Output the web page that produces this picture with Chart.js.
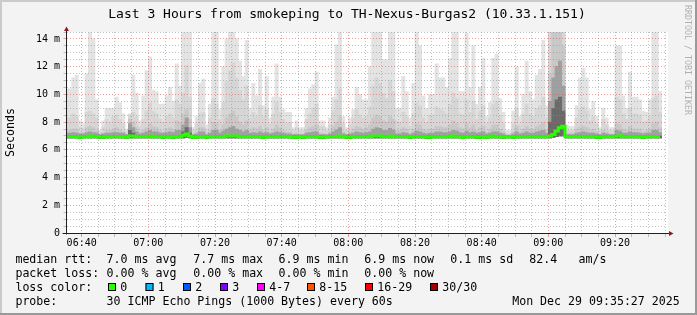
<!DOCTYPE html>
<html>
<head>
<meta charset="utf-8">
<script src="https://cdn.jsdelivr.net/npm/chart.js@4.4.0/dist/chart.umd.min.js"></script>
<style>
  html, body { margin: 0; padding: 0; background: #f3f3f3; }
  #wrap { width: 697px; height: 315px; }
</style>
</head>
<body>
<div id="wrap"><canvas id="smoke" width="697" height="315"></canvas></div>
<script>
// time is in minutes after 06:00, one column per 60s step (06:35 .. 09:34)
var START_MIN = 35;
var VIEW_FROM = 35 + 27 / 60;   // 06:35:27
var VIEW_TO = 215 + 27 / 60;    // 09:35:27

// smoke: ping distribution per step, in ms
var maxRtt = [
  10.4, 10.4, 11.2, 11.4, 8.1, 7.9, 11.5, 15.6, 14.0, 9.6,
  7.4, 8.1, 9.0, 9.0, 9.0, 9.8, 9.4, 8.6, 7.5, 8.6,
  11.4, 10.1, 8.1, 9.9, 11.7, 12.7, 10.3, 10.2, 9.3, 9.3,
  9.9, 10.5, 9.5, 12.2, 10.6, 16.1, 15.3, 15.8, 7.6, 8.4,
  10.8, 11.1, 7.8, 9.3, 15.2, 16.4, 8.9, 12.0, 14.0, 15.5,
  15.1, 14.0, 12.4, 11.3, 13.9, 9.0, 10.8, 9.9, 11.8, 9.2,
  11.3, 8.3, 9.8, 12.2, 9.8, 8.9, 8.7, 8.7, 7.6, 8.1,
  7.6, 7.6, 9.0, 10.4, 10.7, 11.6, 8.1, 8.1, 7.6, 8.3,
  9.8, 13.6, 15.7, 8.4, 7.6, 8.3, 8.9, 10.5, 10.0, 9.6,
  9.6, 12.0, 15.9, 15.2, 16.0, 12.5, 12.5, 15.4, 15.1, 9.0,
  9.0, 11.3, 10.2, 8.3, 10.8, 15.8, 13.5, 9.9, 9.0, 10.0,
  10.0, 12.2, 11.2, 11.2, 10.5, 12.6, 15.3, 16.2, 10.2, 10.2,
  14.4, 10.5, 13.5, 9.3, 10.5, 12.6, 8.4, 9.4, 12.6, 12.9,
  9.7, 8.7, 7.4, 7.4, 8.8, 12.0, 8.4, 10.0, 12.4, 10.2,
  9.6, 11.4, 11.8, 13.9, 9.2, 16.5, 17.2, 17.8, 18.0, 16.9,
  7.8, 7.7, 7.7, 9.2, 11.2, 11.9, 11.2, 8.9, 9.5, 8.4,
  7.6, 9.0, 8.3, 7.6, 7.6, 13.5, 13.5, 9.9, 9.0, 11.6,
  9.8, 9.8, 9.6, 8.8, 8.7, 9.6, 15.4, 15.0, 10.2
];
var hiRtt = [
  8.3, 8.3, 8.6, 8.4, 7.6, 7.5, 8.7, 8.8, 8.6, 8.3,
  7.3, 7.6, 8.2, 8.0, 8.4, 8.5, 8.2, 7.9, 7.3, 8.5,
  8.7, 8.4, 7.7, 8.2, 8.8, 9.4, 8.8, 8.6, 8.2, 8.0,
  8.4, 8.6, 8.3, 9.6, 9.3, 10.1, 12.1, 9.8, 7.4, 7.9,
  8.6, 8.7, 7.5, 8.3, 9.7, 9.3, 8.2, 9.4, 10.9, 11.7,
  12.3, 11.2, 10.3, 9.6, 10.6, 8.3, 8.7, 8.4, 9.2, 8.4,
  8.9, 7.9, 8.6, 9.4, 8.7, 8.2, 7.9, 8.0, 7.4, 7.6,
  7.4, 7.4, 8.2, 8.6, 9.0, 9.3, 7.7, 7.7, 7.4, 7.8,
  8.8, 9.6, 10.4, 7.9, 7.4, 7.8, 8.3, 8.9, 8.5, 8.3,
  8.4, 9.1, 10.6, 11.2, 10.8, 10.1, 9.7, 11.0, 10.2, 8.1,
  8.0, 8.7, 8.4, 7.7, 8.6, 9.4, 9.2, 8.3, 8.0, 8.5,
  8.5, 9.1, 8.9, 8.8, 8.6, 9.3, 10.1, 9.7, 8.6, 8.5,
  9.6, 8.7, 9.5, 8.2, 8.8, 9.2, 7.9, 8.3, 9.3, 9.5,
  8.5, 7.9, 7.2, 7.2, 7.9, 9.0, 7.8, 8.6, 9.3, 8.6,
  8.4, 9.0, 9.2, 9.8, 8.3, 14.6, 17.0, 17.2, 17.4, 15.5,
  7.5, 7.4, 7.4, 8.3, 8.9, 9.1, 8.8, 8.1, 8.4, 7.9,
  7.4, 8.2, 7.8, 7.4, 7.4, 9.8, 9.6, 8.6, 8.2, 9.0,
  8.6, 8.6, 8.5, 8.0, 8.1, 8.4, 9.7, 9.9, 8.7
];
var midRtt = [
  7.4, 7.4, 7.5, 7.5, 7.2, 7.2, 7.6, 7.7, 7.6, 7.4,
  7.1, 7.2, 7.4, 7.4, 7.5, 7.6, 7.4, 7.3, 7.1, 8.2,
  8.0, 7.6, 7.3, 7.4, 7.6, 7.9, 7.7, 7.6, 7.4, 7.3,
  7.5, 7.6, 7.5, 8.1, 8.0, 8.6, 8.9, 8.2, 7.1, 7.3,
  7.6, 7.6, 7.2, 7.4, 8.0, 7.9, 7.4, 7.8, 8.3, 8.6,
  8.8, 8.4, 8.0, 7.8, 8.1, 7.4, 7.6, 7.5, 7.7, 7.4,
  7.6, 7.3, 7.5, 7.8, 7.6, 7.4, 7.3, 7.3, 7.1, 7.2,
  7.1, 7.1, 7.4, 7.6, 7.7, 7.8, 7.2, 7.2, 7.1, 7.3,
  7.7, 8.0, 8.4, 7.3, 7.1, 7.3, 7.5, 7.7, 7.6, 7.5,
  7.6, 7.8, 8.3, 8.5, 8.4, 8.1, 8.0, 8.4, 8.2, 7.4,
  7.4, 7.6, 7.5, 7.2, 7.5, 7.9, 7.8, 7.5, 7.4, 7.5,
  7.5, 7.7, 7.7, 7.6, 7.6, 7.8, 8.1, 7.9, 7.6, 7.5,
  7.9, 7.6, 7.8, 7.4, 7.6, 7.7, 7.3, 7.5, 7.8, 7.8,
  7.5, 7.3, 7.1, 7.1, 7.3, 7.7, 7.3, 7.5, 7.7, 7.5,
  7.5, 7.7, 7.8, 8.0, 7.5, 11.5, 14.8, 15.5, 15.8, 13.5,
  7.2, 7.2, 7.2, 7.5, 7.6, 7.7, 7.6, 7.4, 7.5, 7.3,
  7.1, 7.4, 7.3, 7.1, 7.1, 7.9, 7.8, 7.5, 7.4, 7.7,
  7.5, 7.5, 7.5, 7.3, 7.4, 7.5, 7.9, 8.0, 7.6
];
var coreRtt = [
  7.2, 7.2, 7.25, 7.2, 7.15, 7.15, 7.25, 7.3, 7.25, 7.2,
  7.1, 7.15, 7.2, 7.2, 7.25, 7.25, 7.2, 7.2, 7.1, 7.9,
  7.6, 7.3, 7.15, 7.2, 7.3, 7.4, 7.3, 7.3, 7.2, 7.2,
  7.25, 7.3, 7.25, 7.4, 7.4, 7.8, 8.3, 7.6, 7.1, 7.15,
  7.3, 7.3, 7.1, 7.2, 7.4, 7.4, 7.2, 7.35, 7.5, 7.6,
  7.7, 7.5, 7.4, 7.3, 7.4, 7.2, 7.25, 7.2, 7.3, 7.2,
  7.25, 7.15, 7.2, 7.3, 7.25, 7.2, 7.15, 7.15, 7.1, 7.1,
  7.1, 7.1, 7.2, 7.25, 7.3, 7.3, 7.1, 7.1, 7.1, 7.15,
  7.3, 7.45, 7.6, 7.15, 7.1, 7.15, 7.2, 7.3, 7.25, 7.2,
  7.25, 7.3, 7.5, 7.6, 7.55, 7.4, 7.4, 7.55, 7.45, 7.15,
  7.15, 7.25, 7.2, 7.1, 7.2, 7.35, 7.3, 7.2, 7.15, 7.2,
  7.2, 7.3, 7.3, 7.25, 7.25, 7.3, 7.4, 7.35, 7.25, 7.2,
  7.35, 7.25, 7.3, 7.2, 7.25, 7.3, 7.15, 7.2, 7.3, 7.3,
  7.2, 7.15, 7.05, 7.05, 7.15, 7.3, 7.15, 7.2, 7.3, 7.2,
  7.2, 7.3, 7.35, 7.4, 7.2, 9.5, 11.2, 12.0, 12.4, 10.6,
  7.1, 7.1, 7.1, 7.2, 7.25, 7.3, 7.25, 7.2, 7.2, 7.15,
  7.1, 7.2, 7.15, 7.1, 7.1, 7.4, 7.35, 7.2, 7.2, 7.3,
  7.25, 7.25, 7.2, 7.15, 7.2, 7.2, 7.4, 7.4, 7.25
];
var innerRtt = [
  7.0, 7.0, 7.0, 7.0, 7.0, 7.0, 7.0, 7.0, 7.0, 7.0,
  7.0, 7.0, 7.0, 7.0, 7.0, 7.0, 7.0, 7.0, 7.0, 7.4,
  7.2, 7.0, 7.0, 7.0, 7.0, 7.0, 7.0, 7.0, 7.0, 7.0,
  7.0, 7.0, 7.0, 7.0, 7.0, 7.3, 7.6, 7.2, 7.0, 7.0,
  7.0, 7.0, 7.0, 7.0, 7.0, 7.0, 7.0, 7.0, 7.0, 7.0,
  7.0, 7.0, 7.0, 7.0, 7.0, 7.0, 7.0, 7.0, 7.0, 7.0,
  7.0, 7.0, 7.0, 7.0, 7.0, 7.0, 7.0, 7.0, 7.0, 7.0,
  7.0, 7.0, 7.0, 7.0, 7.0, 7.0, 7.0, 7.0, 7.0, 7.0,
  7.0, 7.0, 7.0, 7.0, 7.0, 7.0, 7.0, 7.0, 7.0, 7.0,
  7.0, 7.0, 7.0, 7.0, 7.0, 7.0, 7.0, 7.0, 7.0, 7.0,
  7.0, 7.0, 7.0, 7.0, 7.0, 7.0, 7.0, 7.0, 7.0, 7.0,
  7.0, 7.0, 7.0, 7.0, 7.0, 7.0, 7.0, 7.0, 7.0, 7.0,
  7.0, 7.0, 7.0, 7.0, 7.0, 7.0, 7.0, 7.0, 7.0, 7.0,
  7.0, 7.0, 7.0, 7.0, 7.0, 7.0, 7.0, 7.0, 7.0, 7.0,
  7.0, 7.0, 7.0, 7.0, 7.0, 8.0, 9.0, 9.6, 9.8, 8.8,
  7.0, 7.0, 7.0, 7.0, 7.0, 7.0, 7.0, 7.0, 7.0, 7.0,
  7.0, 7.0, 7.0, 7.0, 7.0, 7.0, 7.0, 7.0, 7.0, 7.0,
  7.0, 7.0, 7.0, 7.0, 7.0, 7.0, 7.0, 7.0, 7.0
];
var minRtt = [
  6.85, 6.85, 6.85, 6.85, 6.8, 6.85, 6.85, 6.85, 6.85, 6.85,
  6.8, 6.8, 6.85, 6.85, 6.85, 6.85, 6.85, 6.85, 6.8, 6.85,
  6.85, 6.85, 6.85, 6.85, 6.85, 6.85, 6.85, 6.85, 6.85, 6.8,
  6.85, 6.85, 6.8, 6.85, 6.85, 6.85, 6.9, 6.85, 6.8, 6.8,
  6.85, 6.85, 6.8, 6.85, 6.85, 6.85, 6.85, 6.85, 6.85, 6.85,
  6.85, 6.85, 6.85, 6.85, 6.85, 6.85, 6.85, 6.85, 6.85, 6.8,
  6.85, 6.85, 6.85, 6.85, 6.85, 6.85, 6.85, 6.85, 6.8, 6.8,
  6.85, 6.8, 6.85, 6.85, 6.85, 6.85, 6.8, 6.8, 6.85, 6.85,
  6.85, 6.85, 6.85, 6.85, 6.8, 6.8, 6.85, 6.85, 6.85, 6.85,
  6.85, 6.85, 6.85, 6.85, 6.85, 6.85, 6.85, 6.85, 6.85, 6.85,
  6.85, 6.85, 6.85, 6.8, 6.85, 6.85, 6.85, 6.85, 6.8, 6.8,
  6.85, 6.85, 6.85, 6.85, 6.85, 6.85, 6.85, 6.85, 6.85, 6.8,
  6.85, 6.85, 6.85, 6.8, 6.8, 6.85, 6.8, 6.85, 6.85, 6.85,
  6.85, 6.8, 6.85, 6.85, 6.8, 6.85, 6.85, 6.85, 6.85, 6.85,
  6.85, 6.85, 6.85, 6.85, 6.85, 6.85, 6.9, 6.95, 7.0, 7.0,
  6.85, 6.85, 6.85, 6.85, 6.85, 6.85, 6.85, 6.85, 6.85, 6.8,
  6.8, 6.85, 6.85, 6.85, 6.85, 6.85, 6.85, 6.85, 6.85, 6.85,
  6.85, 6.85, 6.85, 6.8, 6.85, 6.85, 6.85, 6.85, 6.85
];
// median rtt, all steps had 0 loss (green)
var medianRtt = [
  6.95, 6.95, 6.95, 6.95, 6.9, 6.95, 6.95, 7.0, 6.95, 6.95,
  6.9, 6.9, 6.95, 6.95, 6.95, 6.95, 6.95, 6.95, 6.9, 7.0,
  7.0, 6.95, 6.95, 6.95, 6.95, 7.0, 6.95, 6.95, 6.95, 6.9,
  6.95, 6.95, 6.9, 6.95, 6.95, 7.05, 7.15, 7.0, 6.9, 6.9,
  6.95, 6.95, 6.9, 6.95, 6.95, 6.95, 6.95, 6.95, 7.0, 7.0,
  7.0, 7.0, 6.95, 6.95, 6.95, 6.95, 6.95, 6.95, 6.95, 6.9,
  6.95, 6.95, 6.95, 6.95, 6.95, 6.95, 6.95, 6.95, 6.9, 6.9,
  6.95, 6.9, 6.95, 6.95, 6.95, 6.95, 6.9, 6.9, 6.95, 6.95,
  6.95, 6.95, 7.0, 6.95, 6.9, 6.9, 6.95, 6.95, 6.95, 6.95,
  6.95, 6.95, 7.0, 7.0, 7.0, 6.95, 6.95, 7.0, 6.95, 6.95,
  6.95, 6.95, 6.95, 6.9, 6.95, 6.95, 6.95, 6.95, 6.9, 6.9,
  6.95, 6.95, 6.95, 6.95, 6.95, 6.95, 7.0, 6.95, 6.95, 6.9,
  6.95, 6.95, 6.95, 6.9, 6.9, 6.95, 6.9, 6.95, 7.0, 6.95,
  6.95, 6.9, 6.95, 6.95, 6.9, 6.95, 6.95, 6.95, 6.95, 6.95,
  6.95, 6.95, 6.95, 6.95, 6.95, 7.0, 7.1, 7.35, 7.6, 7.7,
  6.95, 6.95, 6.95, 6.95, 6.95, 6.95, 6.95, 6.95, 6.95, 6.9,
  6.9, 6.95, 6.95, 6.95, 6.95, 7.0, 7.0, 6.95, 6.95, 6.95,
  6.95, 6.95, 6.95, 6.9, 6.95, 6.95, 6.95, 6.95, 6.95
];

var timeLabels = ['06:40', '07:00', '07:20', '07:40', '08:00', '08:20', '08:40', '09:00', '09:20'];

var titleText = 'Last 3 Hours from smokeping to TH-Nexus-Burgas2 (10.33.1.151)';
var rttStats = ['7.0 ms avg', '7.7 ms max', '6.9 ms min', '6.9 ms now', '0.1 ms sd', '82.4', 'am/s'];
var lossStats = ['0.00 % avg', '0.00 % max', '0.00 % min', '0.00 % now'];
var lossLabels = ['0', '1', '2', '3', '4-7', '8-15', '16-29', '30/30'];
var lossColors = ['#26ff00', '#00b8ff', '#0059ff', '#7e00ff', '#ff00ff', '#ff5500', '#ff0000', '#a00000'];
var probeText = '30 ICMP Echo Pings (1000 Bytes) every 60s';
var stampText = 'Mon Dec 29 09:35:27 2025';

var MONO = "'DejaVu Sans Mono', monospace";
var MAJOR = 'rgba(222,80,80,0.55)';
var MINOR = 'rgba(143,143,143,0.55)';

var minutes = maxRtt.map(function (v, i) { return START_MIN + i + 0.5; });

function band(top) {
  return top.map(function (v, i) { return [minRtt[i], v]; });
}

function smokeSet(name, top, color, order) {
  return {
    type: 'bar', label: name, data: band(top), backgroundColor: color,
    borderWidth: 0, grouped: false, barPercentage: 1, categoryPercentage: 1, order: order
  };
}

var rrdLook = {
  id: 'rrdLook',
  beforeDraw: function (chart) {
    var ctx = chart.ctx, a = chart.chartArea;
    ctx.save();
    ctx.fillStyle = '#f3f3f3';
    ctx.fillRect(0, 0, chart.width, chart.height);
    ctx.fillStyle = '#ffffff';
    ctx.fillRect(a.left, a.top, a.right - a.left + 1.5, a.bottom - a.top);
    ctx.restore();
  },
  afterDraw: function (chart) {
    var ctx = chart.ctx, a = chart.chartArea;
    var W = chart.width, H = chart.height;
    ctx.save();

    // axes with arrows
    var ax = Math.floor(a.left) + 0.5, ay = Math.round(a.bottom) + 0.5;
    ctx.strokeStyle = '#202020';
    ctx.lineWidth = 1;
    ctx.beginPath();
    ctx.moveTo(ax, ay + 1); ctx.lineTo(ax, a.top - 1);
    ctx.moveTo(ax - 4, ay); ctx.lineTo(a.right + 2.5, ay);
    ctx.stroke();
    ctx.fillStyle = '#8e1c1c';
    ctx.beginPath();
    ctx.moveTo(ax - 2.5, a.top - 1); ctx.lineTo(ax + 2.5, a.top - 1); ctx.lineTo(ax, a.top - 5.5);
    ctx.closePath(); ctx.fill();
    ctx.beginPath();
    ctx.moveTo(a.right + 2.5, ay - 2.5); ctx.lineTo(a.right + 2.5, ay + 2.5); ctx.lineTo(a.right + 7, ay);
    ctx.closePath(); ctx.fill();

    // title
    ctx.fillStyle = '#000';
    ctx.font = '13px ' + MONO;
    ctx.textAlign = 'center';
    ctx.textBaseline = 'alphabetic';
    ctx.fillText(titleText, 347, 18.3);

    // legend
    ctx.font = '11.6px ' + MONO;
    ctx.textAlign = 'left';
    var statX = [106.6, 193.3, 278.6, 364.3, 450.3, 529.3, 578.6];
    ctx.fillText('median rtt:', 15.4, 263.3);
    rttStats.forEach(function (s, i) { ctx.fillText(s, statX[i], 263.3); });
    ctx.fillText('packet loss:', 15.4, 277.3);
    lossStats.forEach(function (s, i) { ctx.fillText(s, statX[i], 277.3); });
    ctx.fillText('loss color:', 15.4, 291.3);
    var boxX = [108, 145.5, 183, 220, 257, 307, 365, 430];
    lossLabels.forEach(function (s, i) {
      ctx.fillStyle = lossColors[i];
      ctx.fillRect(boxX[i], 283, 8, 8);
      ctx.strokeStyle = '#000';
      ctx.strokeRect(boxX[i] + 0.5, 283.5, 7, 7);
      ctx.fillStyle = '#000';
      ctx.fillText(s, boxX[i] + 12.3, 291.3);
    });
    ctx.fillText('probe:', 15.4, 305.3);
    ctx.fillText(probeText, 106.6, 305.3);
    ctx.fillText(stampText, 512.2, 305.3);

    // watermark
    ctx.save();
    ctx.translate(687, 5);
    ctx.rotate(Math.PI / 2);
    ctx.font = '8.3px ' + MONO;
    ctx.fillStyle = '#b0b0b0';
    ctx.textBaseline = 'middle';
    ctx.fillText('RRDTOOL / TOBI OETIKER', 0, 0);
    ctx.restore();

    // frame shade
    ctx.fillStyle = '#cbcbcb';
    ctx.fillRect(0, 0, W, 2);
    ctx.fillRect(0, 0, 2, H);
    ctx.fillStyle = '#999999';
    ctx.fillRect(0, H - 2, W, 2);
    ctx.fillRect(W - 2, 0, 2, H);
    ctx.restore();
  }
};

new Chart(document.getElementById('smoke'), {
  type: 'bar',
  data: {
    labels: minutes,
    datasets: [
      {
        type: 'line', label: 'median', data: medianRtt, borderColor: '#26ff00',
        borderWidth: 3, pointRadius: 0, stepped: 'middle', fill: false,
        borderCapStyle: 'butt', borderJoinStyle: 'miter', order: 0
      },
      smokeSet('inner', innerRtt, '#6a6a6a', 1),
      smokeSet('core', coreRtt, '#a0a0a0', 2),
      smokeSet('mid', midRtt, '#c8c8c8', 3),
      smokeSet('hi', hiRtt, '#d6d6d6', 4),
      smokeSet('max', maxRtt, '#e3e3e3', 5)
    ]
  },
  options: {
    responsive: false,
    animation: false,
    devicePixelRatio: 1,
    layout: { padding: { top: 32, right: 30.5, left: 0, bottom: 0 } },
    plugins: { legend: { display: false }, tooltip: { enabled: false }, title: { display: false } },
    scales: {
      x: {
        type: 'linear', min: VIEW_FROM, max: VIEW_TO, offset: false,
        afterBuildTicks: function (scale) {
          var t = [];
          for (var v = 40; v <= 215; v += 5) t.push({ value: v });
          scale.ticks = t;
        },
        afterFit: function (scale) { scale.height = 82; },
        grid: {
          z: 1, offset: false, lineWidth: 1, tickLength: 4,
          color: function (c) { return c.tick && c.tick.value % 20 === 0 ? MAJOR : MINOR; },
          tickColor: function (c) { return c.tick && c.tick.value % 20 === 0 ? MAJOR : MINOR; }
        },
        border: { display: false, dash: [1, 2] },
        ticks: {
          autoSkip: false, maxRotation: 0, minRotation: 0, padding: 0, color: '#000',
          font: { family: MONO, size: 10 },
          callback: function (v) { return v % 20 === 0 ? timeLabels[(v - 40) / 20] : ''; }
        }
      },
      y: {
        min: 0, max: 14.5,
        afterBuildTicks: function (scale) {
          var t = [];
          for (var v = 0; v <= 14.5; v += 0.5) t.push({ value: v });
          scale.ticks = t;
        },
        afterFit: function (scale) { scale.width = 66.5; },
        grid: {
          z: 1, lineWidth: 1, tickLength: 3,
          color: function (c) { return c.tick && c.tick.value % 2 === 0 ? MAJOR : MINOR; },
          tickColor: function (c) { return c.tick && c.tick.value % 2 === 0 ? MAJOR : MINOR; }
        },
        border: { display: false, dash: [1, 2] },
        title: { display: true, text: 'Seconds', color: '#000', font: { family: MONO, size: 11.6 }, padding: { top: 4, bottom: 0 } },
        ticks: {
          autoSkip: false, padding: 3.5, color: '#000',
          font: { family: MONO, size: 10 },
          callback: function (v) { return v % 2 === 0 ? (v === 0 ? '0' : v + ' m') : ''; }
        }
      }
    }
  },
  plugins: [rrdLook]
});
</script>
</body>
</html>
